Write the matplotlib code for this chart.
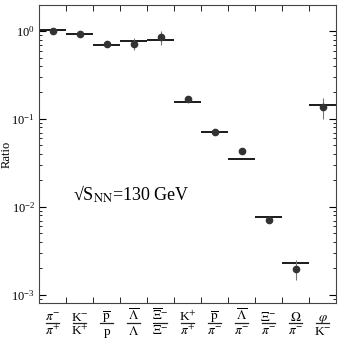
import numpy as np
import matplotlib
matplotlib.use("Agg")
import matplotlib.pyplot as plt
from matplotlib.transforms import blended_transform_factory
from matplotlib.lines import Line2D

plt.rcParams["font.family"] = ["Liberation Serif", "DejaVu Serif"]
plt.rcParams["mathtext.fontset"] = "stix"

# particle ratios, sqrt(s_NN) = 130 GeV  (numerator / denominator)
label_num = [r"$\pi^{-}$", r"K$^{-}$", r"$\overline{\mathrm{p}}$", r"$\overline{\Lambda}$",
             r"$\overline{\Xi}^{-}$", r"K$^{+}$", r"$\overline{\mathrm{p}}$",
             r"$\overline{\Lambda}$", r"$\Xi^{-}$", r"$\Omega$", r"$\varphi$"]
label_den = [r"$\pi^{+}$", r"K$^{+}$", "p", r"$\Lambda$", r"$\overline{\Xi}^{-}$",
             r"$\pi^{+}$", r"$\pi^{-}$", r"$\pi^{-}$", r"$\pi^{-}$", r"$\pi^{-}$", r"K$^{-}$"]
data_vals = [1.0, 0.92, 0.71, 0.72, 0.85, 0.168, 0.0706, 0.0436, 0.0071, 0.00196, 0.136]
data_errs = [0.03, 0.04, 0.02, 0.11, 0.15, 0.008, 0.003, 0.0035, 0.0006, 0.0005, 0.035]
model_vals = [1.02, 0.93, 0.70, 0.77, 0.79, 0.157, 0.071, 0.0351, 0.0076, 0.00233, 0.143]

x = np.arange(len(data_vals))

fig = plt.figure(figsize=(3.43, 3.43), dpi=100)
ax = fig.add_axes([0.114, 0.117, 0.866, 0.868])

ax.hlines(model_vals, x - 0.49, x + 0.49, colors="#1a1a1a", linewidth=1.4, zorder=2)
ax.errorbar(x, data_vals, yerr=data_errs, fmt="o", color="#333333", ecolor="#777777",
            elinewidth=0.8, markersize=4.5, capsize=0, zorder=3)

ax.set_yscale("log")
ax.set_ylim(8.1e-4, 1.97)
ax.set_xlim(-0.5, len(data_vals) - 0.5)

ax.set_xticks(x)
ax.set_xticklabels([])
ax.set_xticks(x[:-1] + 0.5, minor=True)
ax.tick_params(axis="x", which="major", length=0)
ax.tick_params(axis="x", which="minor", direction="in", length=4, top=True, bottom=True)
ax.tick_params(axis="y", which="both", direction="in", left=True, right=True)
ax.tick_params(axis="y", which="major", length=5, labelsize=9, pad=3)
ax.tick_params(axis="y", which="minor", length=2.5)

# fraction-style category labels under the axis
trans = blended_transform_factory(ax.transData, fig.transFigure)
for xi, num, den in zip(x, label_num, label_den):
    ax.text(xi, 0.0655, num, transform=trans, ha="center", va="baseline", fontsize=9.5)
    ax.text(xi, 0.023, den, transform=trans, ha="center", va="baseline", fontsize=9.5)
    fig.add_artist(Line2D([xi - 0.25, xi + 0.25], [0.0595, 0.0595], transform=trans,
                          color="#222222", linewidth=0.9))

ax.set_ylabel("Ratio", fontsize=9)
ax.yaxis.set_label_coords(-0.088, 0.5)
ax.text(0.114, 0.342, r"√S$_{\mathrm{NN}}$=130 GeV", transform=ax.transAxes,
        fontsize=13, va="baseline", ha="left")

for s in ax.spines.values():
    s.set_color("#444444")

plt.savefig("out.png", dpi=100)
